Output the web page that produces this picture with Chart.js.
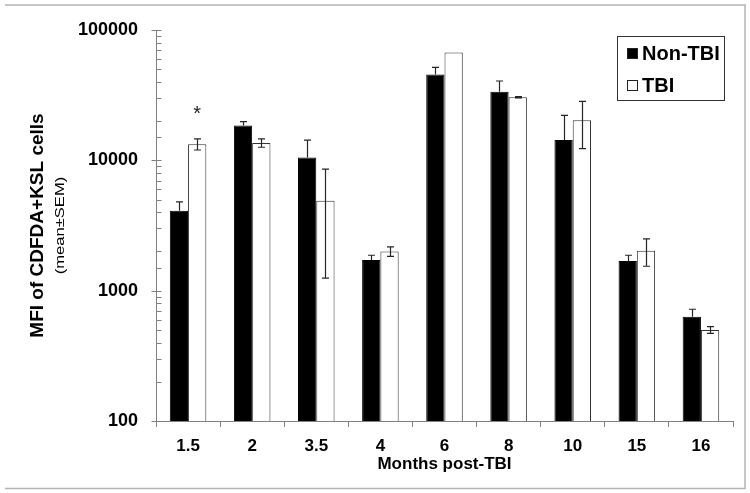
<!DOCTYPE html>
<html>
<head>
<meta charset="utf-8">
<style>
  html, body { margin: 0; padding: 0; background: #fff; }
  #wrap { width: 750px; height: 493px; position: relative; }
</style>
<script src="https://cdn.jsdelivr.net/npm/chart.js@4.4.0/dist/chart.umd.min.js"></script>
</head>
<body>
<div id="wrap"><canvas id="chart"></canvas></div>
<script>
const months = ['1.5', '2', '3.5', '4', '6', '8', '10', '15', '16'];
const nonTbi = [4100, 18500, 10500, 1720, 45600, 33600, 14300, 1690, 630];
const nonTbiErr = [700, 1300, 3800, 150, 6000, 7000, 7800, 180, 90];
const tbi = [13300, 13600, 4900, 2000, 67300, 30500, 20300, 2020, 500];
const tbiErr = [1300, 1000, 3650, 170, 0, 350, 8000, 480, 30];
const tbiMarks = ['*', '', '', '', '', '', '', '', ''];
const yLabels = [100, 1000, 10000, 100000];

const FONT = "'Liberation Sans', Arial, sans-serif";
const AXIS_GRAY = '#808080';

const isLabelled = (value) => yLabels.includes(value);

// outer frame like the pasted figure
const framePlugin = {
  id: 'frame',
  beforeDraw(chart) {
    const { ctx } = chart;
    ctx.save();
    ctx.strokeStyle = '#b4b4b4';
    ctx.lineWidth = 1.5;
    ctx.beginPath();
    ctx.moveTo(5, 5);
    ctx.lineTo(745, 5);
    ctx.lineTo(745, 488.5);
    ctx.lineTo(5, 488.5);
    ctx.stroke();
    ctx.restore();
  },
};

const yTicksPlugin = {
  id: 'yTicks',
  afterDraw(chart) {
    const { ctx, chartArea } = chart;
    const scale = chart.scales.y;
    const x0 = Math.round(chartArea.left) + 0.5;
    ctx.save();
    ctx.strokeStyle = AXIS_GRAY;
    ctx.lineWidth = 1;
    scale.ticks.forEach((tick) => {
      const py = Math.round(scale.getPixelForValue(tick.value)) + 0.5;
      ctx.beginPath();
      if (isLabelled(tick.value)) {
        ctx.moveTo(x0 - 5, py);
        ctx.lineTo(x0 + 5, py);
      } else {
        ctx.moveTo(x0, py);
        ctx.lineTo(x0 + 5, py);
      }
      ctx.stroke();
    });
    ctx.restore();
  },
};

const errorBarsPlugin = {
  id: 'errorBars',
  afterDatasetsDraw(chart) {
    const { ctx } = chart;
    const scale = chart.scales.y;
    ctx.save();
    ctx.strokeStyle = '#262626';
    ctx.lineWidth = 1.2;
    chart.data.datasets.forEach((ds, i) => {
      const meta = chart.getDatasetMeta(i);
      meta.data.forEach((bar, j) => {
        const err = ds.errors[j];
        if (!err) return;
        const v = ds.data[j];
        const top = scale.getPixelForValue(v + err);
        const bottom = ds.lowerError ? scale.getPixelForValue(v - err) : scale.getPixelForValue(v);
        const x = Math.round(bar.x) + 0.5;
        ctx.beginPath();
        ctx.moveTo(x, top);
        ctx.lineTo(x, bottom);
        ctx.moveTo(x - 3.5, top);
        ctx.lineTo(x + 3.5, top);
        if (ds.lowerError) {
          ctx.moveTo(x - 3.5, bottom);
          ctx.lineTo(x + 3.5, bottom);
        }
        ctx.stroke();
      });
      if (ds.marks) {
        ctx.fillStyle = '#222';
        ctx.font = `20px ${FONT}`;
        ctx.textAlign = 'center';
        ctx.textBaseline = 'middle';
        meta.data.forEach((bar, j) => {
          if (!ds.marks[j]) return;
          const top = scale.getPixelForValue(ds.data[j] + ds.errors[j]);
          ctx.fillText(ds.marks[j], bar.x, top - 24);
        });
      }
    });
    ctx.restore();
  },
};

const yTitlePlugin = {
  id: 'yTitle',
  afterDraw(chart) {
    const { ctx, chartArea } = chart;
    const cy = (chartArea.top + chartArea.bottom) / 2;
    ctx.save();
    ctx.fillStyle = '#000';
    ctx.textAlign = 'center';
    ctx.textBaseline = 'middle';
    ctx.translate(38, cy);
    ctx.rotate(-Math.PI / 2);
    ctx.font = `bold 19px ${FONT}`;
    ctx.fillText('MFI of CDFDA+KSL cells', 0, 0);
    ctx.translate(0, 23);
    ctx.scale(1.38, 1);
    ctx.font = `12px ${FONT}`;
    ctx.fillText('(mean\u00b1SEM)', 0, 0);
    ctx.restore();
  },
};

const legendPlugin = {
  id: 'boxLegend',
  afterDraw(chart) {
    const { ctx } = chart;
    ctx.save();
    ctx.strokeStyle = '#333';
    ctx.lineWidth = 1;
    ctx.strokeRect(617.5, 36.5, 107, 64);
    ctx.font = `bold 20px ${FONT}`;
    ctx.textBaseline = 'middle';
    ctx.textAlign = 'left';
    chart.data.datasets.forEach((ds, i) => {
      const cy = 53.5 + i * 32;
      ctx.fillStyle = ds.backgroundColor;
      ctx.fillRect(627, cy - 5.5, 11, 11);
      ctx.strokeStyle = '#222';
      ctx.strokeRect(627.5, cy - 5, 10, 10);
      ctx.fillStyle = '#000';
      ctx.fillText(ds.label, 642, cy + 1);
    });
    ctx.restore();
  },
};

new Chart(document.getElementById('chart'), {
  type: 'bar',
  data: {
    labels: months,
    datasets: [
      {
        label: 'Non-TBI',
        data: nonTbi,
        errors: nonTbiErr,
        lowerError: false,
        backgroundColor: '#000000',
        borderColor: '#000000',
        borderWidth: 1,
        barPercentage: 1,
        categoryPercentage: 0.57,
      },
      {
        label: 'TBI',
        data: tbi,
        errors: tbiErr,
        lowerError: true,
        marks: tbiMarks,
        backgroundColor: '#ffffff',
        borderColor: '#333333',
        borderWidth: 1,
        barPercentage: 1,
        categoryPercentage: 0.57,
      },
    ],
  },
  options: {
    responsive: true,
    maintainAspectRatio: false,
    animation: false,
    layout: { padding: { top: 30, right: 17, left: 0, bottom: 5 } },
    plugins: {
      legend: { display: false },
      tooltip: { enabled: false },
    },
    scales: {
      x: {
        grid: {
          offset: true,
          drawOnChartArea: false,
          drawTicks: true,
          tickLength: 6,
          color: AXIS_GRAY,
        },
        border: { display: true, color: AXIS_GRAY, width: 1 },
        ticks: {
          color: '#000',
          padding: 9,
          font: { family: FONT, size: 17, weight: 'bold' },
        },
        title: {
          display: true,
          text: 'Months post-TBI',
          color: '#000',
          padding: { top: 0, bottom: 13 },
          font: { family: FONT, size: 17, weight: 'bold' },
        },
        afterFit: (scale) => { scale.height = 67; },
      },
      y: {
        type: 'logarithmic',
        min: 100,
        max: 100000,
        grid: { display: false, drawTicks: false },
        border: { display: true, color: AXIS_GRAY, width: 1 },
        ticks: {
          autoSkip: false,
          padding: 18,
          color: '#000',
          font: { family: FONT, size: 18, weight: 'bold' },
          callback: (value) => (isLabelled(value) ? String(value) : ''),
        },
        afterFit: (scale) => { scale.width = 156; },
      },
    },
  },
  plugins: [framePlugin, yTicksPlugin, errorBarsPlugin, yTitlePlugin, legendPlugin],
});
</script>
</body>
</html>
